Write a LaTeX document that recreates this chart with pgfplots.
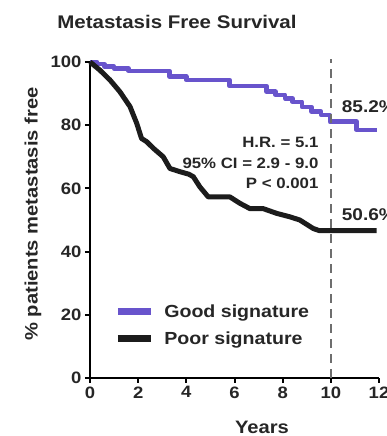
\documentclass[border=0pt]{standalone}
\usepackage{pgfplots}
\pgfplotsset{compat=1.18}
\usepackage{fontspec}
\setmainfont{Liberation Sans}
\newfontfamily\wide[FakeStretch=1.12]{Liberation Sans}
\definecolor{goodc}{RGB}{104,84,204}
\definecolor{poorc}{RGB}{28,28,28}
\definecolor{dashc}{RGB}{110,110,110}
\newcommand{\fs}[1]{\fontsize{#1}{#1}\wide\bfseries}
\begin{document}
\begin{tikzpicture}
\begin{axis}[
  at={(90pt,58pt)}, anchor=south west,
  scale only axis, width=289pt, height=316pt,
  xmin=0, xmax=12, ymin=0, ymax=100,
  axis lines*=left, clip=false,
  axis line style={line width=2.2pt, black},
  xtick={0,2,...,12}, ytick={0,20,...,100},
  tick align=outside, major tick length=5pt,
  tick style={line width=2pt, black},
  /pgf/number format/assume math mode=true,
  ticklabel style={font=\fs{16.5}, text=black!85},
  legend style={draw=none, fill=none, at={(axis cs:1.0,24.0)}, anchor=north west,
    font=\fs{17.5}, inner sep=0pt, text=black!85, row sep=9pt},
  legend cell align=left,
  legend image code/.code={\draw[#1, line width=7pt] (0pt,0pt) -- (33pt,0pt);},
  /tikz/every odd column/.append style={column sep=8pt},
]
\addplot[const plot, color=goodc, line width=4.5pt, line join=round] coordinates {
(0,100)(0.3,99.3)(0.6,98.6)(1.0,97.9)(1.6,97.2)(3.3,95.4)(4.0,94.3)(5.8,92.4)
(7.33,90.6)(7.7,89.6)(8.1,88.5)(8.4,87.4)(8.8,85.8)(9.2,84.3)(9.6,83.2)(9.96,81.1)
(11.07,78.5)(11.9,78.5)};
\addlegendentry{Good signature}
\addplot[color=poorc, line width=5pt, line join=round] coordinates {
(0,100)(0.4,97.5)(0.83,94.3)(1.24,90.6)(1.66,85.9)(1.94,80.6)(2.14,75.8)(2.35,74.8)
(2.63,72.7)(3.04,70.0)(3.32,66.3)(3.73,65.3)(4.1,64.5)(4.29,63.7)(4.56,60.5)(4.91,57.3)
(5.81,57.3)(6.22,55.3)(6.64,53.6)(7.19,53.6)(7.75,52.1)(8.3,51.0)(8.71,50.0)(9.27,47.3)
(9.54,46.6)(11.9,46.6)};
\addlegendentry{Poor signature}
\addplot[color=dashc, line width=1.5pt, dash pattern=on 9pt off 6pt, forget plot] coordinates {(10,0)(10,101)};
\node[anchor=east, font=\fs{15}, text=black!85] at (axis cs:9.63,74.4) {H.R. = 5.1};
\node[anchor=east, font=\fs{15}, text=black!85] at (axis cs:9.63,68.0) {95\% CI = 2.9 - 9.0};
\node[anchor=east, font=\fs{15}, text=black!85] at (axis cs:9.63,61.7) {P < 0.001};
\node[anchor=west, inner sep=0pt, font=\fs{17}, text=black!85] at (axis cs:10.45,85.8) {85.2\%};
\node[anchor=west, inner sep=0pt, font=\fs{17}, text=black!85] at (axis cs:10.45,51.6) {50.6\%};
\end{axis}
\node[font=\fs{18.3}, text=black!85] at (177pt,414pt) {Metastasis Free Survival};
\node[rotate=90, font=\fs{18}, text=black!85] at (33pt,222pt) {\% patients metastasis free};
\node[anchor=base, font=\fs{18}, text=black!85] at (262pt,2.5pt) {Years};
\pgfresetboundingbox
\useasboundingbox (0pt,0pt) rectangle (387pt,436pt);
\end{tikzpicture}
\end{document}
